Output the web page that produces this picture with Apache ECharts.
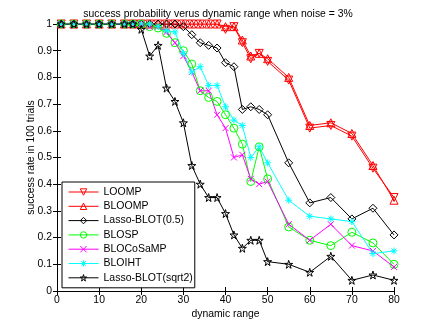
<!DOCTYPE html>
<html><head><meta charset="utf-8">
<script src="https://cdn.jsdelivr.net/npm/echarts@6/dist/echarts.min.js"></script>
<style>html,body{margin:0;padding:0;background:#fff}#c{width:436px;height:328px}</style>
</head><body><div id="c"></div>
<script>
const xValues = [1,4,7,10,13,16,18,20,22,24,26,28,30,32,34,36,38,40,42,44,46,48,50,55,60,65,70,75,80];
const LOOMP = [1,1,1,1,1,1,1,1,1,1,1,1,1,1,1,1,1,0.98,0.99,0.93,0.87,0.89,0.86,0.79,0.61,0.62,0.58,0.46,0.35];
const BLOOMP = [1,1,1,1,1,1,1,1,1,1,1,1,1,1,1,1,1,0.99,0.99,0.94,0.88,0.89,0.87,0.80,0.62,0.63,0.59,0.47,0.34];
const LassoBLOT05 = [1,1,1,1,1,1,1,1,1,1,1,1,0.99,0.96,0.93,0.92,0.91,0.855,0.84,0.68,0.69,0.68,0.66,0.48,0.33,0.35,0.27,0.31,0.21];
const BLOSP = [1,1,1,1,1,1,1,1,0.99,0.985,0.965,0.93,0.90,0.85,0.75,0.725,0.71,0.66,0.61,0.55,0.41,0.54,0.42,0.24,0.19,0.17,0.22,0.18,0.10];
const BLOCoSaMP = [1,1,1,1,1,1,1,1,0.99,0.99,0.97,0.93,0.88,0.82,0.75,0.75,0.66,0.61,0.50,0.51,0.42,0.40,0.41,0.25,0.19,0.25,0.17,0.15,0.09];
const BLOIHT = [1,1,1,1,1,1,1,1,1,0.99,0.975,0.97,0.89,0.82,0.84,0.77,0.77,0.69,0.64,0.62,0.50,0.54,0.48,0.34,0.28,0.27,0.26,0.14,0.15];
const LassoBLOTsqrt2 = [1,1,1,1,1,1,1,0.98,0.88,0.92,0.76,0.71,0.63,0.47,0.40,0.35,0.35,0.29,0.21,0.16,0.19,0.19,0.11,0.10,0.07,0.13,0.04,0.06,0.04];
const xTicks = [0,10,20,30,40,50,60,70,80];
const yTicks = [0,0.1,0.2,0.3,0.4,0.5,0.6,0.7,0.8,0.9,1];

const FONT = 'Liberation Sans, Arial, Helvetica, sans-serif';
const STAR = 'path://M50,0L61,35L98,35L68,57L79,91L50,70L21,91L32,57L2,35L39,35Z';
const XMARK = 'path://M0,0L10,10M10,0L0,10';
const AST = 'path://M5,0L5,10M0,5L10,5M1.5,1.5L8.5,8.5M8.5,1.5L1.5,8.5';
const CLEAR = 'rgba(255,255,255,0)';

function mk(name, vals, color, symbol, size, rotate) {
  return {
    name: name, type: 'line', xAxisIndex: 0, yAxisIndex: 0,
    data: xValues.map((x, i) => [x, vals[i]]),
    symbol: symbol, symbolSize: size, symbolRotate: rotate || 0,
    showAllSymbol: true, animation: false,
    lineStyle: { color: color, width: 1 },
    itemStyle: { color: CLEAR, borderColor: color, borderWidth: 1 },
    emphasis: { disabled: true }
  };
}

const chart = echarts.init(document.getElementById('c'), null, { renderer: 'canvas' });
const axisCommon = {
  axisLine: { show: true, lineStyle: { color: '#000', width: 1 } },
  axisTick: { show: true, inside: true, length: 4, lineStyle: { color: '#000' } },
  splitLine: { show: false }
};
chart.setOption({
  animation: false,
  backgroundColor: '#fff',
  title: {
    text: 'success probability verus dynamic range when noise = 3%',
    left: 'center', top: 4,
    textStyle: { fontFamily: FONT, fontSize: 10.4, fontWeight: 'normal', color: '#000' }
  },
  grid: { left: 57, right: 42, top: 24, bottom: 37 },
  xAxis: [
    Object.assign({
      type: 'value', min: xTicks[0], max: xTicks[xTicks.length - 1], interval: 10, position: 'bottom',
      name: 'dynamic range', nameLocation: 'middle', nameGap: 18, nameMoveOverlap: false,
      nameTextStyle: { fontFamily: FONT, fontSize: 10.4, color: '#000' },
      axisLabel: { fontFamily: FONT, fontSize: 10.4, color: '#000', margin: 4 }
    }, axisCommon),
    Object.assign({
      type: 'value', min: xTicks[0], max: xTicks[xTicks.length - 1], interval: 10, position: 'top',
      axisLabel: { show: false }
    }, axisCommon)
  ],
  yAxis: [
    Object.assign({
      type: 'value', min: yTicks[0], max: yTicks[yTicks.length - 1], interval: 0.1, position: 'left',
      name: 'success rate in 100 trials', nameLocation: 'middle', nameGap: 21, nameMoveOverlap: false,
      nameTextStyle: { fontFamily: FONT, fontSize: 10.4, color: '#000' },
      axisLabel: { fontFamily: FONT, fontSize: 10.4, color: '#000', margin: 5 }
    }, axisCommon),
    Object.assign({
      type: 'value', min: yTicks[0], max: yTicks[yTicks.length - 1], interval: 0.1, position: 'right',
      axisLabel: { show: false }
    }, axisCommon)
  ],
  legend: {
    orient: 'vertical', left: 62, top: 182,
    padding: [4, 2, 4, 6],
    itemWidth: 30, itemHeight: 8, itemGap: 2.3,
    backgroundColor: '#fff', borderColor: '#000', borderWidth: 1, borderRadius: 0,
    lineStyle: { width: 1 },
    itemStyle: { color: CLEAR, borderWidth: 1 },
    textStyle: { fontFamily: FONT, fontSize: 10.5, lineHeight: 12, color: '#000', padding: [0, 0, 0, 0] },
    data: ['LOOMP','BLOOMP','Lasso-BLOT(0.5)','BLOSP','BLOCoSaMP','BLOIHT','Lasso-BLOT(sqrt2)']
  },
  series: [
    mk('LOOMP', LOOMP, '#ff0000', 'triangle', 8, 180),
    mk('BLOOMP', BLOOMP, '#ff0000', 'triangle', 8, 0),
    mk('Lasso-BLOT(0.5)', LassoBLOT05, '#000000', 'diamond', 8, 0),
    mk('BLOSP', BLOSP, '#00ff00', 'circle', 8, 0),
    mk('BLOCoSaMP', BLOCoSaMP, '#ff00ff', XMARK, 6, 0),
    mk('BLOIHT', BLOIHT, '#00ffff', AST, 7, 0),
    mk('Lasso-BLOT(sqrt2)', LassoBLOTsqrt2, '#000000', STAR, 8, 0)
  ]
});
</script></body></html>
